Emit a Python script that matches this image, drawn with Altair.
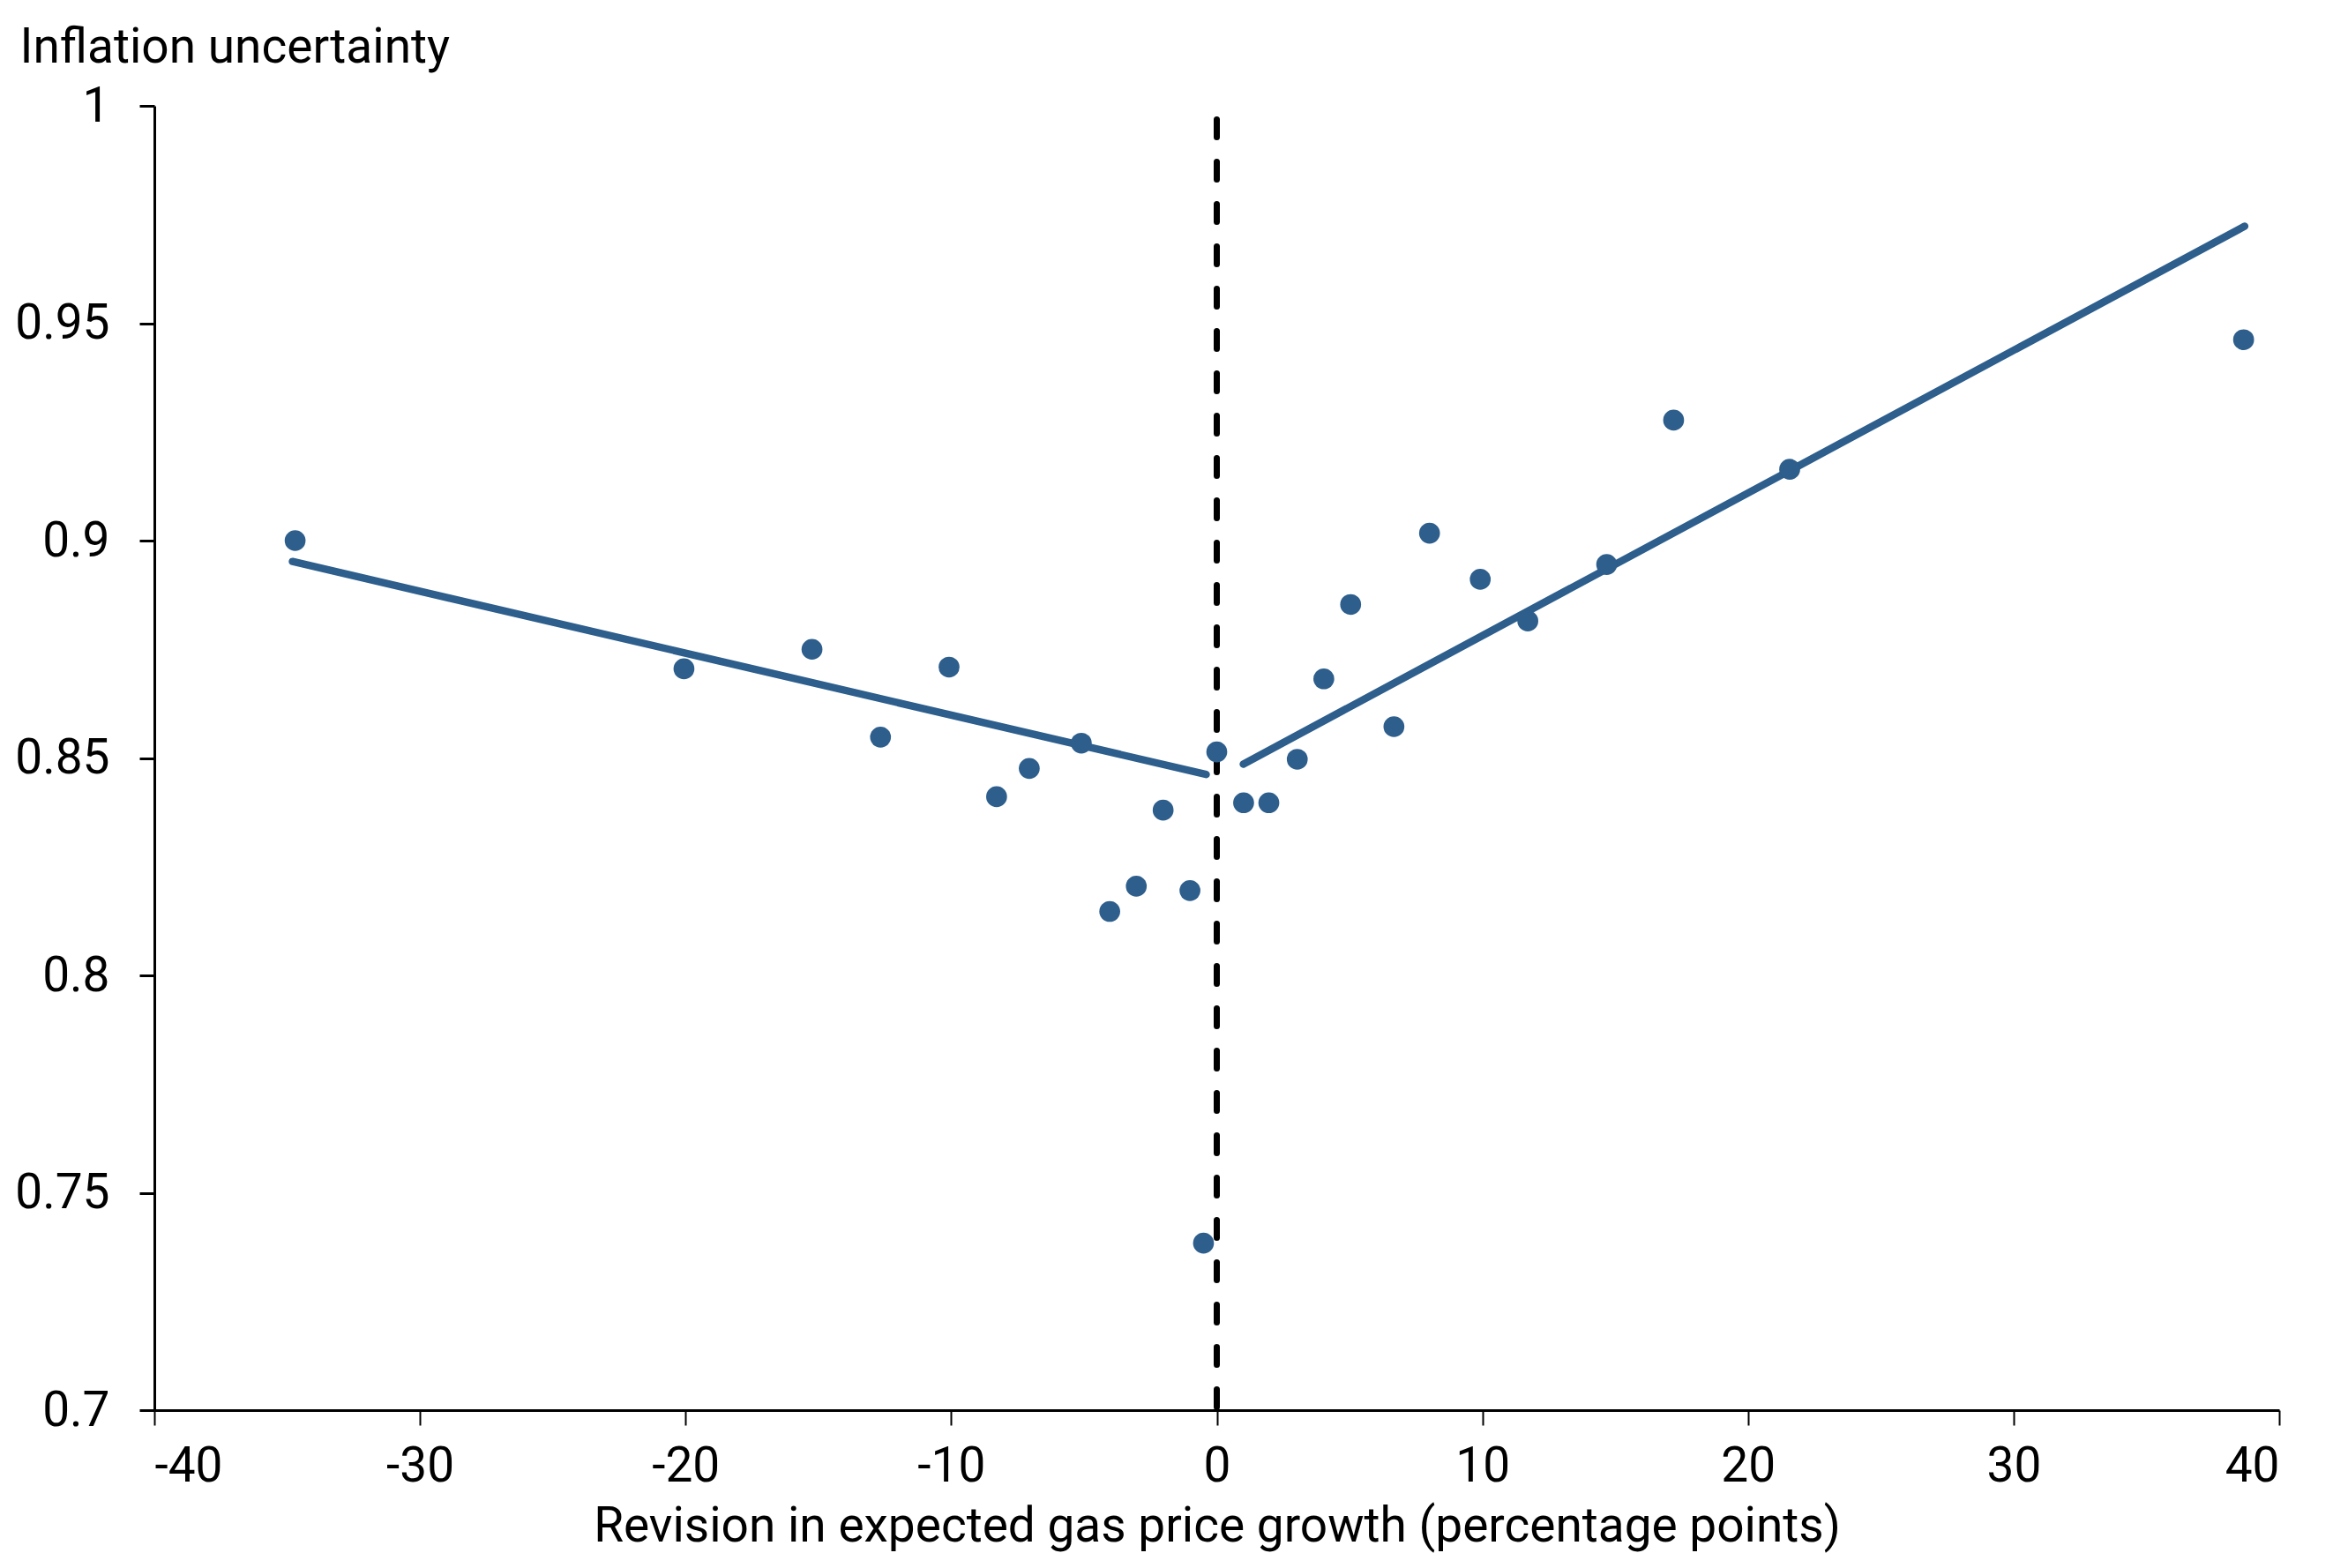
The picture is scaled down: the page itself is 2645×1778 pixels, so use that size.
import altair as alt
import pandas as pd

# Scatter points (binned averages)
gas_revision = [-34.7, -20.06, -15.24, -12.66, -10.08, -8.29, -7.06, -5.10, -4.03, -3.03,
                -2.02, -1.01, -0.50, 0.0, 1.01, 1.96, 3.03, 4.03, 5.04, 6.67,
                8.01, 9.92, 11.71, 14.68, 17.2, 21.57, 38.66]
uncertainty = [0.900, 0.8705, 0.875, 0.8548, 0.8709, 0.8411, 0.8476, 0.8534, 0.8147, 0.8205,
               0.838, 0.8195, 0.7384, 0.8514, 0.8397, 0.8397, 0.8497, 0.8682, 0.8853, 0.8572,
               0.9017, 0.8911, 0.8815, 0.8945, 0.9277, 0.9164, 0.9462]

# Fitted lines (endpoints)
fit_segment = ["left", "left", "right", "right"]
fit_x = [-34.8, -0.4, 1.0, 38.7]
fit_y = [0.8952, 0.8462, 0.8486, 0.9723]

# Zero reference line (drawn from top down)
zero_x = [0.0]
zero_y_top = [0.99686]
zero_y_bottom = [0.7]

x_ticks = [-40, -30, -20, -10, 0, 10, 20, 30, 40]
y_ticks = [0.7, 0.75, 0.8, 0.85, 0.9, 0.95, 1.0]

BLUE = "#2D5E8C"
FONT = "Roboto"

pts = pd.DataFrame({"x": gas_revision, "y": uncertainty})
fit = pd.DataFrame({"seg": fit_segment, "x": fit_x, "y": fit_y})
zero = pd.DataFrame({"x": zero_x, "y": zero_y_top, "y2": zero_y_bottom})

x_scale = alt.Scale(domain=[-40, 40], nice=False, zero=False)
y_scale = alt.Scale(domain=[0.7, 1.0], nice=False, zero=False)

x_axis = alt.Axis(
    values=x_ticks, format="~g", grid=False,
    labelExpr="replace(datum.label, '\u2212', '-')",
    title="Revision in expected gas price growth (percentage points)",
    labelFont=FONT, labelFontSize=55, labelColor="black", labelPadding=20,
    titleFont=FONT, titleFontSize=55, titleFontWeight="normal", titleColor="black",
    titlePadding=14,
    domainColor="black", domainWidth=3, tickColor="black", tickWidth=2, tickSize=17,
)
y_axis = alt.Axis(
    values=y_ticks, format="~g", grid=False,
    title="Inflation uncertainty",
    titleAngle=0, titleAlign="left", titleBaseline="alphabetic",
    titleX=-153, titleY=-50,
    labelFont=FONT, labelFontSize=55, labelColor="black", labelPadding=34,
    titleFont=FONT, titleFontSize=55, titleFontWeight="normal", titleColor="black",
    domainColor="black", domainWidth=3, tickColor="black", tickWidth=3, tickSize=17,
)

points = alt.Chart(pts).mark_circle(size=560, color=BLUE, opacity=1).encode(
    x=alt.X("x:Q", scale=x_scale, axis=x_axis),
    y=alt.Y("y:Q", scale=y_scale, axis=y_axis),
)

lines = alt.Chart(fit).mark_line(color=BLUE, strokeWidth=8.5, strokeCap="round").encode(
    x=alt.X("x:Q", scale=x_scale),
    y=alt.Y("y:Q", scale=y_scale),
    detail="seg:N",
)

rule = alt.Chart(zero).mark_rule(color="black", strokeWidth=7, strokeDash=[20, 28],
                                 strokeCap="round").encode(
    x=alt.X("x:Q", scale=x_scale),
    y=alt.Y("y:Q", scale=y_scale),
    y2="y2:Q",
)

chart = alt.layer(rule, lines, points).properties(
    width=2409, height=1479,
    background="white",
    autosize=alt.AutoSizeParams(type="none"),
    padding={"left": 167, "top": 112, "right": 53, "bottom": 171},
).configure_view(stroke=None)

chart.save("out.html", embed_options={"renderer": "svg", "actions": False})
